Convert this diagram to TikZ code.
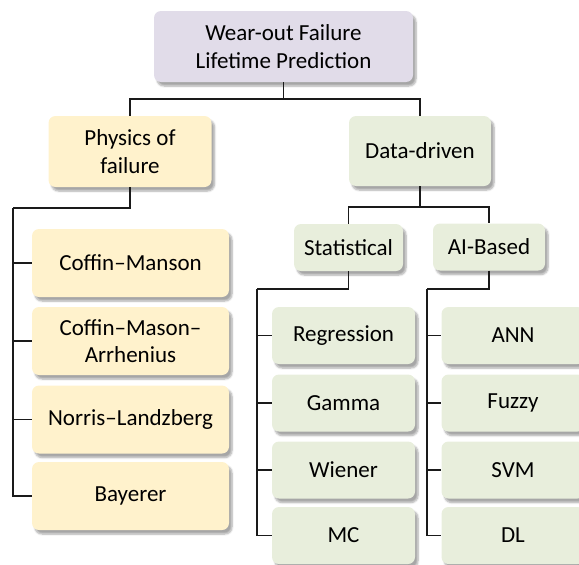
\documentclass[tikz,border=0pt]{standalone}
\usepackage{fontspec}
\setmainfont{Carlito}
\usetikzlibrary{shadows.blur}
\definecolor{rootfill}{HTML}{E1DCE9}
\definecolor{physfill}{HTML}{FFF2CC}
\definecolor{datafill}{HTML}{E8EEDC}
\definecolor{linecol}{HTML}{1A1A1A}
\tikzset{
  box/.style={draw=none, rounded corners=7pt, align=center, inner sep=0pt,
    font=\fontsize{23}{27.5}\selectfont, text=black,
    blur shadow={shadow xshift=3pt, shadow yshift=-4pt, shadow blur steps=6, shadow opacity=35}},
  rootbox/.style={box, fill=rootfill, minimum width=259pt, minimum height=71pt},
  physbox/.style={box, fill=physfill, minimum width=197pt, minimum height=68pt},
  datahead/.style={box, fill=datafill, minimum width=142pt, minimum height=70pt},
  subhead/.style={box, fill=datafill, minimum height=47pt},
  leafbox/.style={box, fill=datafill, minimum width=143pt, minimum height=57pt},
  conn/.style={draw=linecol, line width=1.3pt}
}
\begin{document}
\begin{tikzpicture}[x=1pt, y=-1pt]
\useasboundingbox (0,0) rectangle (579,565);
% nodes
\node[rootbox] (root) at (283.5,46.5) {Wear-out Failure\\Lifetime Prediction};
\node[box, fill=physfill, minimum width=163pt, minimum height=71pt] (phys) at (130,151.5) {Physics of\\failure};
\node[datahead] (data) at (420,151) {Data-driven};
\node[subhead, minimum width=109pt] (stat) at (348.5,247.5) {Statistical};
\node[subhead, minimum width=112pt] (ai) at (489,247) {AI-Based};
\node[physbox] (cm) at (130.5,263) {Coffin--Manson};
\node[physbox] (cma) at (130.5,341) {Coffin--Mason--\\Arrhenius};
\node[physbox] (nl) at (130.5,419.5) {Norris--Landzberg};
\node[physbox] (bay) at (130.5,496) {Bayerer};
\node[leafbox] (reg) at (343.5,335.5) {Regression};
\node[leafbox] (gam) at (343.5,403) {Gamma};
\node[leafbox] (wie) at (343.5,470) {Wiener};
\node[leafbox] (mc) at (343.5,535.5) {MC};
\node[leafbox] (ann) at (513,335.5) {ANN};
\node[leafbox] (fuz) at (513,403) {Fuzzy};
\node[leafbox] (svm) at (513,470) {SVM};
\node[leafbox] (dl) at (513,535.5) {DL};
% junction coordinates
\coordinate (rj) at (283.5,99);
\coordinate (pj) at (13,208);
\coordinate (dj) at (420,207);
\coordinate (sj) at (257,289);
\coordinate (aj) at (427,289);
% connectors
\draw[conn] (root.south) -- (rj);
\draw[conn] (rj) -| (phys.north);
\draw[conn] (rj) -| (data.north);
\draw[conn] (phys.south) |- (pj);
\draw[conn] (pj) |- (cm.west);
\draw[conn] (pj) |- (cma.west);
\draw[conn] (pj) |- (nl.west);
\draw[conn] (pj) |- (bay.west);
\draw[conn] (data.south) -- (dj);
\draw[conn] (dj) -| (stat.north);
\draw[conn] (dj) -| (ai.north);
\draw[conn] (stat.south) |- (sj);
\draw[conn] (sj) |- (reg.west);
\draw[conn] (sj) |- (gam.west);
\draw[conn] (sj) |- (wie.west);
\draw[conn] (sj) |- (mc.west);
\draw[conn] (ai.south) |- (aj);
\draw[conn] (aj) |- (ann.west);
\draw[conn] (aj) |- (fuz.west);
\draw[conn] (aj) |- (svm.west);
\draw[conn] (aj) |- (dl.west);
\end{tikzpicture}
\end{document}
